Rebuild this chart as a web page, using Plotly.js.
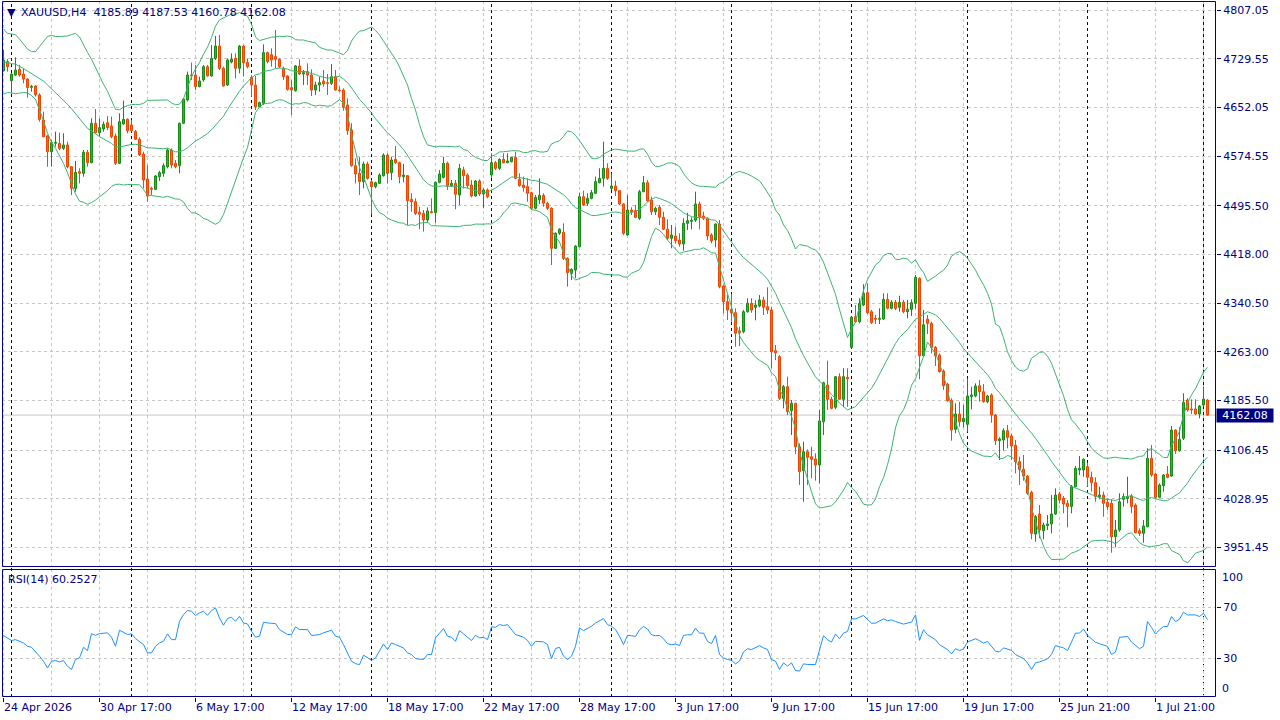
<!DOCTYPE html>
<html><head><meta charset="utf-8">
<script src="https://cdn.plot.ly/plotly-3.0.1.min.js"></script>
<style>html,body{margin:0;padding:0;background:#fff}#chart{width:1280px;height:720px}</style>
</head><body><div id="chart"></div>
<script>
// ---------------- DATA (XAUUSD H4) ----------------
const symbolTitle = "XAUUSD,H4";
const O = [
4710.6,4725.0,4694.7,4703.7,4712.8,4705.3,4697.4,4684.1,4686.2,4671.9,
4632.1,4606.6,4581.6,4594.9,4594.9,4586.9,4592.3,4557.7,4523.2,4549.8,
4547.1,4580.6,4564.1,4626.8,4611.9,4617.7,4627.8,4622.5,4606.6,4563.1,
4625.7,4633.1,4624.1,4614.0,4601.3,4577.9,4538.0,4523.2,4521.6,4541.8,
4547.1,4557.7,4584.3,4563.1,4559.3,4626.8,4663.9,4703.7,4703.7,4685.2,
4695.8,4717.0,4702.2,4730.3,4749.9,4714.4,4687.8,4724.5,4730.3,4714.4,
4749.9,4723.4,4700.0,4687.8,4653.3,4658.6,4739.3,4736.0,4733.0,4728.7,
4714.4,4702.2,4683.6,4678.8,4718.1,4705.3,4709.1,4703.7,4679.8,4687.8,
4694.2,4691.5,4690.5,4701.0,4679.8,4679.8,4656.0,4616.1,4559.3,4547.1,
4533.8,4562.0,4533.8,4525.9,4531.2,4543.4,4576.3,4548.2,4569.4,4564.1,
4541.8,4543.4,4505.7,4501.9,4485.0,4483.4,4472.8,4486.0,4484.4,4532.8,
4540.7,4563.1,4527.4,4531.2,4512.6,4552.4,4544.5,4528.5,4511.0,4534.9,
4514.2,4520.6,4544.5,4564.1,4555.1,4569.4,4564.1,4565.7,4572.6,4537.6,
4528.5,4525.9,4516.3,4491.4,4505.0,4512.0,4499.4,4491.4,4427.7,4451.6,
4453.2,4411.7,4387.9,4393.1,4430.3,4509.9,4499.4,4507.3,4515.3,4532.2,
4539.2,4555.1,4523.2,4526.9,4519.5,4498.3,4448.9,4488.7,4487.6,4475.5,
4517.9,4532.2,4504.6,4486.0,4493.0,4477.1,4458.0,4443.6,4447.3,4440.9,
4434.5,4467.5,4470.7,4472.5,4498.3,4479.2,4475.5,4448.9,4440.9,4466.4,
4367.7,4342.7,4330.5,4325.1,4296.0,4294.9,4326.7,4340.1,4333.7,4335.8,
4345.4,4334.7,4329.4,4264.6,4255.1,4188.8,4207.3,4169.1,4180.8,4111.7,
4073.5,4103.7,4095.8,4092.1,4082.6,4151.5,4210.0,4187.2,4174.5,4223.2,
4187.2,4222.2,4270.0,4318.8,4310.8,4337.4,4357.0,4326.7,4316.2,4314.6,
4315.1,4346.4,4332.1,4341.7,4333.7,4341.7,4326.7,4330.5,4340.1,4379.9,
4256.6,4315.0,4308.2,4270.0,4257.7,4232.3,4211.5,4185.0,4139.4,4163.8,
4151.5,4147.4,4191.4,4192.5,4208.9,4199.3,4183.4,4194.1,4162.2,4121.3,
4122.4,4137.2,4128.7,4114.0,4088.0,4075.7,4065.0,4039.1,3972.6,4004.5,
3977.9,3985.9,3988.6,4004.5,4036.4,4029.5,4021.5,4016.6,4048.0,4074.6,
4074.6,4079.8,4062.9,4054.4,4032.1,4034.8,4023.1,4021.5,3968.4,3979.0,
4027.9,4029.5,4033.2,4018.8,3977.9,3973.7,3984.3,4093.2,4068.2,4031.1,
4049.6,4068.2,4065.0,4138.3,4105.3,4125.1,4186.1,4171.8,4171.8,4163.8,
4178.1,4185.89];
const H = [
4743.6,4729.2,4706.4,4731.9,4719.7,4714.4,4698.4,4687.8,4687.8,4674.5,
4645.3,4608.2,4600.2,4613.5,4611.9,4610.8,4597.6,4558.8,4566.8,4555.1,
4584.3,4584.3,4634.7,4649.6,4634.7,4629.4,4638.4,4637.4,4610.8,4642.7,
4662.9,4634.7,4632.1,4616.1,4604.5,4581.6,4560.0,4525.9,4544.5,4551.0,
4563.1,4586.9,4586.9,4568.4,4628.0,4666.6,4709.1,4723.4,4719.7,4701.1,
4719.7,4719.7,4751.5,4765.9,4767.5,4717.0,4730.3,4738.3,4738.3,4751.5,
4751.5,4730.3,4703.7,4702.2,4661.3,4752.6,4740.9,4746.2,4775.4,4730.3,
4717.0,4703.7,4695.8,4719.7,4728.7,4711.7,4722.3,4712.8,4693.1,4701.0,
4711.7,4705.3,4721.3,4711.7,4685.2,4682.5,4666.6,4626.8,4571.0,4573.6,
4565.7,4565.7,4536.5,4533.8,4547.1,4579.0,4579.0,4573.6,4590.6,4565.7,
4562.0,4544.5,4515.3,4507.3,4494.0,4488.7,4493.0,4507.3,4533.8,4552.4,
4573.6,4565.7,4536.5,4536.5,4562.0,4557.7,4547.1,4536.5,4536.5,4537.6,
4523.2,4523.2,4579.0,4566.8,4571.0,4579.0,4579.0,4573.6,4581.6,4547.1,
4541.8,4539.2,4517.9,4512.6,4539.2,4515.3,4501.9,4493.0,4453.2,4459.6,
4467.5,4413.3,4395.8,4432.5,4516.3,4519.5,4515.3,4520.6,4541.8,4555.1,
4597.5,4563.1,4547.1,4535.4,4520.6,4499.4,4512.6,4493.0,4496.7,4520.6,
4542.9,4536.5,4509.9,4494.0,4496.7,4486.0,4473.9,4464.8,4462.1,4451.6,
4475.5,4484.4,4477.1,4517.9,4501.9,4486.0,4477.1,4451.6,4467.5,4472.8,
4369.3,4353.3,4354.9,4332.1,4302.9,4329.4,4348.1,4348.1,4345.0,4353.3,
4350.6,4365.6,4334.7,4273.7,4257.7,4210.0,4223.2,4186.1,4181.8,4117.1,
4119.7,4107.5,4111.7,4101.2,4170.2,4215.2,4248.7,4191.4,4224.3,4228.6,
4236.6,4236.6,4318.8,4337.4,4348.1,4370.4,4372.0,4329.4,4321.5,4332.1,
4356.0,4356.0,4345.4,4345.4,4352.2,4345.4,4345.4,4346.4,4385.2,4381.5,
4329.4,4321.5,4310.8,4272.1,4260.4,4235.0,4213.6,4188.8,4180.8,4183.4,
4178.1,4220.6,4207.3,4212.6,4217.9,4211.5,4194.1,4196.7,4163.8,4126.6,
4141.0,4146.3,4131.9,4122.4,4095.8,4098.5,4066.6,4041.6,4002.9,4018.8,
3990.6,4002.9,4034.8,4045.4,4040.1,4033.2,4026.8,4050.7,4080.9,4096.9,
4093.2,4086.2,4071.9,4062.9,4048.0,4040.1,4029.5,4027.9,3994.9,4037.5,
4037.5,4063.9,4036.4,4021.5,3981.7,3994.9,4109.1,4114.4,4070.3,4053.4,
4068.2,4080.9,4144.7,4139.4,4142.6,4196.7,4188.8,4187.2,4187.2,4178.1,
4207.3,4187.53];
const L = [
4709.1,4709.1,4674.5,4702.2,4701.1,4690.5,4667.6,4677.2,4669.2,4629.4,
4604.5,4557.7,4557.7,4589.6,4584.3,4584.3,4555.1,4512.6,4517.9,4531.2,
4541.8,4557.7,4563.1,4610.8,4605.5,4613.5,4616.1,4602.9,4560.4,4562.0,
4624.1,4610.8,4613.5,4600.2,4574.7,4523.2,4502.0,4512.6,4520.6,4535.0,
4541.8,4555.1,4555.1,4555.1,4547.1,4625.7,4661.3,4695.8,4679.9,4684.1,
4693.1,4701.1,4701.1,4727.6,4711.7,4685.2,4686.2,4722.3,4698.4,4706.4,
4701.1,4714.4,4669.2,4648.0,4652.2,4656.0,4722.3,4717.0,4714.4,4714.4,
4695.8,4678.8,4640.0,4677.2,4703.7,4687.8,4687.8,4670.3,4671.9,4677.2,
4685.2,4671.9,4687.8,4678.8,4677.2,4646.9,4608.2,4557.7,4531.2,4512.6,
4523.2,4537.0,4481.9,4523.2,4530.1,4541.8,4531.2,4536.5,4562.0,4531.2,
4532.8,4464.8,4486.0,4480.7,4458.0,4454.2,4468.5,4483.4,4468.5,4531.2,
4539.2,4520.6,4525.9,4489.8,4496.7,4523.2,4523.2,4508.9,4509.9,4511.0,
4491.4,4507.3,4540.0,4552.4,4552.4,4563.1,4563.1,4564.6,4537.6,4525.9,
4517.9,4501.9,4488.7,4489.8,4498.3,4494.0,4488.7,4401.1,4426.6,4448.9,
4409.1,4366.6,4377.2,4379.9,4429.3,4495.1,4495.1,4505.7,4514.2,4531.2,
4525.9,4536.5,4520.6,4511.0,4496.7,4448.9,4447.3,4480.7,4475.5,4472.8,
4516.9,4501.9,4480.7,4480.7,4464.8,4456.9,4440.9,4427.7,4435.7,4430.3,
4423.9,4456.9,4458.0,4469.6,4458.0,4472.8,4440.9,4435.7,4429.3,4364.0,
4324.1,4313.5,4310.8,4271.0,4272.1,4292.3,4325.1,4325.1,4313.0,4333.7,
4321.5,4323.1,4236.6,4249.8,4186.1,4172.8,4162.2,4130.3,4100.1,4050.7,
4024.1,4050.7,4061.4,4057.6,4053.4,4130.3,4170.2,4171.3,4171.3,4186.1,
4174.5,4175.4,4268.4,4309.2,4308.2,4335.8,4323.1,4307.1,4307.1,4307.1,
4313.5,4330.5,4330.5,4329.4,4326.7,4324.1,4316.2,4319.9,4332.1,4219.1,
4255.1,4291.2,4260.4,4240.2,4229.6,4202.0,4183.4,4121.3,4133.1,4143.6,
4142.6,4135.6,4171.3,4190.4,4183.4,4181.8,4180.8,4149.9,4114.4,4090.5,
4105.3,4109.1,4090.5,4069.3,4050.7,4057.6,4034.8,3964.2,3960.4,3965.8,
3964.2,3979.0,3973.7,4002.9,4021.5,4005.6,3983.3,4005.6,4047.0,4066.6,
4063.9,4048.0,4040.1,4024.1,4027.9,4000.2,4010.9,3942.9,3951.5,3976.3,
4016.2,4021.5,4005.6,3973.7,3969.5,3958.8,3983.3,4063.9,4029.5,4029.5,
4040.1,4061.4,4063.9,4100.1,4103.7,4122.4,4167.5,4163.8,4162.2,4156.9,
4175.4,4160.78];
const C = [
4727.6,4717.0,4705.3,4711.7,4703.7,4697.4,4683.6,4685.7,4672.4,4633.1,
4605.5,4581.6,4596.0,4596.5,4586.9,4592.3,4557.7,4523.2,4548.7,4547.1,
4580.6,4564.1,4626.8,4611.9,4619.9,4625.2,4619.9,4605.5,4563.1,4629.4,
4633.1,4615.1,4615.1,4601.3,4576.3,4536.5,4511.0,4521.6,4542.9,4548.2,
4559.3,4584.3,4560.4,4557.7,4626.8,4665.5,4703.7,4702.2,4685.2,4694.2,
4717.0,4702.2,4730.3,4749.9,4714.4,4686.2,4727.6,4728.7,4714.4,4749.9,
4723.4,4717.0,4687.8,4653.3,4659.7,4739.3,4725.0,4727.6,4728.7,4717.0,
4701.1,4680.9,4679.9,4718.1,4705.3,4707.5,4703.7,4679.8,4687.8,4691.5,
4689.4,4690.5,4701.0,4679.8,4678.8,4652.3,4615.0,4559.3,4546.1,4533.8,
4562.0,4539.2,4525.9,4532.2,4544.5,4576.3,4547.1,4568.4,4564.1,4541.8,
4544.5,4503.5,4501.9,4483.4,4482.0,4472.8,4487.1,4484.4,4532.8,4546.1,
4563.1,4527.4,4531.2,4513.7,4555.1,4543.4,4527.4,4511.0,4534.9,4514.2,
4520.6,4509.9,4564.1,4555.1,4569.4,4564.1,4566.8,4572.6,4539.2,4527.4,
4524.3,4515.3,4491.4,4508.9,4512.0,4499.4,4491.4,4427.7,4451.6,4458.0,
4411.7,4388.9,4394.2,4431.4,4509.9,4496.7,4507.3,4516.3,4533.8,4539.2,
4555.1,4539.2,4526.9,4519.5,4498.3,4451.6,4488.7,4486.0,4477.1,4517.9,
4532.2,4503.5,4486.0,4491.4,4477.1,4458.0,4443.6,4448.9,4439.8,4434.5,
4467.5,4471.7,4472.5,4498.3,4478.1,4475.5,4447.3,4439.8,4466.4,4366.6,
4342.7,4329.4,4325.1,4292.3,4293.3,4326.7,4340.1,4329.4,4337.4,4345.4,
4333.7,4329.4,4263.0,4261.4,4188.8,4207.3,4167.5,4180.8,4111.7,4071.9,
4103.7,4094.8,4091.6,4082.6,4152.6,4213.6,4187.2,4172.8,4223.2,4187.2,
4223.2,4220.0,4317.8,4310.8,4340.1,4356.0,4325.1,4309.2,4314.6,4316.2,
4346.4,4332.1,4341.7,4332.1,4341.7,4326.7,4330.5,4341.1,4381.5,4256.6,
4306.0,4308.2,4270.0,4256.6,4231.2,4208.9,4185.0,4138.3,4163.8,4151.5,
4156.9,4192.5,4194.1,4208.4,4199.3,4183.4,4192.5,4162.2,4121.3,4124.0,
4137.2,4126.6,4112.8,4087.8,4075.7,4065.0,4037.5,3973.7,4000.2,3979.0,
3987.0,3988.6,4004.5,4034.8,4026.8,4020.4,4016.6,4048.0,4077.3,4077.3,
4091.6,4062.9,4054.4,4032.1,4034.8,4021.5,4016.2,3968.4,3979.0,4024.1,
4032.1,4032.1,4016.6,3974.7,3973.7,3985.4,4093.2,4066.6,4031.1,4050.7,
4066.6,4062.9,4138.3,4105.3,4123.5,4182.4,4170.2,4170.2,4163.8,4176.5,
4187.7,4162.08];

// Bollinger Bands (20,2) values read for the first 19 bars (their window starts before the chart)
const bbUpperHead = [4777,4770,4769,4768,4761,4752,4745,4741,4741,4749,4757,4765,4767,4765,4765,4765,4766,4768,4770];
const bbMiddleHead = [4725,4723,4722,4721,4718,4714,4710,4706,4703,4699,4694,4688,4682,4676,4670,4664,4657,4650,4642];
const bbLowerHead = [4673,4676,4675,4674,4675,4676,4675,4671,4665,4649,4631,4611,4597,4587,4575,4563,4548,4532,4514];
const bbPeriod = 20, bbDev = 2;

// RSI(14): bar index -> value
const rsiBars = [0,2,3,5,6,7,9,10,11,12,13,14,15,16,17,18,19,20,21,22,23,24,26,27,28,29,31,32,33,35,36,37,38,39,40,41,42,43,44,45,46,47,48,49,50,51,52,53,54,55,56,57,58,59,60,61,62,63,64,65,66,68,69,71,72,73,74,76,77,79,80,82,83,84,85,86,87,88,89,90,91,92,93,94,95,96,97,98,100,101,102,103,105,106,107,108,110,111,112,113,114,115,116,117,118,119,120,121,122,123,124,125,126,128,130,131,132,133,135,136,137,138,139,140,141,142,143,144,145,147,148,150,151,152,153,154,155,156,
157,158,159,160,161,162,163,164,165,166,167,168,169,170,171,172,173,174,175,176,177,178,179,180,181,182,183,184,185,186,187,188,189,190,191,192,193,194,195,196,197,198,199,200,201,203,204,205,206,207,208,209,210,211,212,213,215,216,217,218,220,221,222,223,225,227,228,229,230,231,233,234,236,237,238,239,240,241,243,244,245,246,248,249,250,252,253,255,256,257,258,259,261,262,263,265,266,267,268,269,270,271,273,274,276,277,278,279,281,282,284,285,286,287,288,289,290,291,292,293,294,295,296,298,299,300,301];
const rsiValues = [47.8,43.9,44.6,42,39.4,38.6,31.6,27.6,22.4,27.6,28.2,27.1,28.2,23.7,21.1,29,30.3,38.6,36,49.3,48,49.3,49.9,46.5,39.4,52,48.6,49.1,45.4,40.7,34.2,34.2,39.4,42,43.3,49.1,44.6,44.6,59,64.2,67.4,66.9,63.5,65.6,66.9,63.7,67.4,69.5,61.6,55.9,61.1,62.2,59,62.9,57.7,56.9,51.2,46.5,47.3,58.2,57.7,57.2,52.5,48.6,48.6,54.6,52.5,52.5,47.8,48.6,49.9,52,47.3,46.5,40.7,34.2,27.6,25.8,25,32.4,30.3,28.4,30.3,35.5,41.2,36.8,42,40.7,38.1,34.2,32.9,29.7,29,32.9,32.9,46,53.3,47.3,46.5,43.3,51.7,49.1,46.5,43.9,48,46,46.5,44.6,54.6,54.3,56.4,55.6,56.4,48.6,46.5,43.9,39.4,43.3,42.8,40.7,29.7,37.6,38.6,31.6,29,31.6,39.4,53.8,51.7,55.1,57.7,61.1,56.4,55.1,52.5,47.3,40.7,48,
47.7,47.1,52.3,54.9,52.9,48.4,47.7,47.9,45.3,41.4,40.6,41.2,39.9,47.9,48.4,48.4,53.6,49.7,49.7,43.2,41.4,47.9,32.9,30.3,29,28.4,25.6,27.7,34.9,37.5,36.8,38.6,39.9,38.1,36.8,29,27.7,21.2,26.4,23.8,26.4,20.4,19.9,25.6,25.1,25.1,35.5,47.7,44.5,42.7,49,45.3,49.7,51,60.9,60.9,63.5,60.1,57.5,57.5,60.9,59.4,60.1,58.8,56.8,58.3,64,44,52.3,48.4,44.5,40.6,36.8,33.4,37.5,36,37.3,42.7,45.3,43.8,41.9,43.2,35.5,34.9,38.1,36.2,32.9,29.7,26.4,21.2,26.4,27.1,29.5,32.9,39.9,38.1,36,42.7,49.7,49.7,52.9,47.9,42.5,41.4,39.4,32.9,34.9,46.4,47.1,42.7,37.5,39.4,58.8,54.2,49,52.3,54.9,54.9,62.7,58.8,60.6,66.1,64,64,62.7,65.3,60.25];
const rsiLast = "60.2527";

// axis labels
const priceTicks = [4807.05,4729.55,4652.05,4574.55,4495.50,4418.00,4340.50,4263.00,4185.50,4106.45,4028.95,3951.45];
const dateTickBars = [0,24,48,72,96,120,144,168,192,216,240,264,288];
const dateTickLabels = ["24 Apr 2026","30 Apr 17:00","6 May 17:00","12 May 17:00","18 May 17:00","22 May 17:00","28 May 17:00","3 Jun 17:00","9 Jun 17:00","15 Jun 17:00","19 Jun 17:00","25 Jun 21:00","1 Jul 21:00"];
const weekStartBars = [2,32,62,92,122,152,182,212,241,271,300];

// ---------------- STYLE ----------------
const NAVY = '#000080', GRID = '#c6c6c6', FONT = 'DejaVu Sans';
const BULL_FILL = '#2fb52f', BULL_LINE = '#178c17';
const BEAR_FILL = '#ff6a0a', BEAR_LINE = '#f04400';
const BB_COLOR = '#3cb371', RSI_COLOR = '#1e90ff';

const n = C.length;
const bull = {x:[],b:[],h:[]}, bear = {x:[],b:[],h:[]};
const wBull = {x:[],y:[]}, wBear = {x:[],y:[]};
for (let i=0;i<n;i++){
  const up = C[i] >= O[i];
  const top = Math.max(O[i],C[i]), bot = Math.min(O[i],C[i]);
  const tgt = up?bull:bear, w = up?wBull:wBear;
  tgt.x.push(i); tgt.b.push(bot); tgt.h.push(Math.max(top-bot,0.8));
  w.x.push(i,i,null,i,i,null); w.y.push(H[i],top,null,bot,L[i],null);
}
// Bollinger bands from the closes (window complete from bar 19)
const bbU=[], bbM=[], bbL=[];
for (let i=0;i<n;i++){
  if (i < bbPeriod-1){ bbU.push(bbUpperHead[i]); bbM.push(bbMiddleHead[i]); bbL.push(bbLowerHead[i]); continue; }
  let s=0; for (let k=i-bbPeriod+1;k<=i;k++) s+=C[k];
  const m=s/bbPeriod; let v=0; for (let k=i-bbPeriod+1;k<=i;k++) v+=(C[k]-m)*(C[k]-m);
  const sd=Math.sqrt(v/bbPeriod);
  bbU.push(m+bbDev*sd); bbM.push(m); bbL.push(m-bbDev*sd);
}
const idx = [...Array(n).keys()];
const traces = [
  {type:'bar',x:bull.x,y:bull.h,base:bull.b,width:0.5,marker:{color:BULL_FILL,line:{color:BULL_LINE,width:1}},xaxis:'x',yaxis:'y',hoverinfo:'skip'},
  {type:'bar',x:bear.x,y:bear.h,base:bear.b,width:0.5,marker:{color:BEAR_FILL,line:{color:BEAR_LINE,width:1}},xaxis:'x',yaxis:'y',hoverinfo:'skip'},
  {type:'scatter',mode:'lines',x:wBull.x,y:wBull.y,line:{color:BULL_LINE,width:1},connectgaps:false,xaxis:'x',yaxis:'y',hoverinfo:'skip'},
  {type:'scatter',mode:'lines',x:wBear.x,y:wBear.y,line:{color:BEAR_LINE,width:1},connectgaps:false,xaxis:'x',yaxis:'y',hoverinfo:'skip'},
  {type:'scatter',mode:'lines',x:idx,y:bbU,line:{color:BB_COLOR,width:1},xaxis:'x',yaxis:'y',hoverinfo:'skip'},
  {type:'scatter',mode:'lines',x:idx,y:bbM,line:{color:BB_COLOR,width:1},xaxis:'x',yaxis:'y',hoverinfo:'skip'},
  {type:'scatter',mode:'lines',x:idx,y:bbL,line:{color:BB_COLOR,width:1},xaxis:'x',yaxis:'y',hoverinfo:'skip'},
  {type:'scatter',mode:'lines',x:rsiBars,y:rsiValues,line:{color:RSI_COLOR,width:1},xaxis:'x',yaxis:'y2',hoverinfo:'skip'}
];

const D_MAIN = [0.18678,1], D_RSI = [0,0.18391];
// pane frames placed on half pixels so the 1px navy borders stay crisp
const FR_L = 0.000412, FR_R = 0.999588;
const lastPrice = C[n-1];
const shapes = [
  {type:'line',xref:'paper',x0:0,x1:1,yref:'y',y0:lastPrice,y1:lastPrice,line:{color:'#c8c8c8',width:1},layer:'below'},
  {type:'rect',xref:'paper',yref:'paper',x0:FR_L,x1:FR_R,y0:0.18750,y1:0.99928,line:{color:NAVY,width:1}},
  {type:'rect',xref:'paper',yref:'paper',x0:FR_L,x1:FR_R,y0:0.000718,y1:0.18319,line:{color:NAVY,width:1}}
];
weekStartBars.forEach(b=>shapes.push({type:'line',xref:'x',x0:b,x1:b,yref:'paper',y0:0,y1:1,line:{color:NAVY,width:1,dash:'3px,3px'},layer:'below'}));

const tf = {family:FONT,size:11,color:NAVY};
const annotations = [
  {xref:'paper',yref:'paper',x:0,xshift:3,y:0.9835,xanchor:'left',yanchor:'middle',text:'▼',font:{family:FONT,size:11,color:NAVY},showarrow:false},
  {xref:'paper',yref:'paper',x:0,xshift:17,y:0.9832,xanchor:'left',yanchor:'middle',
   text:symbolTitle+'\u00a0\u00a0'+[O[n-1],H[n-1],L[n-1],C[n-1]].map(v=>v.toFixed(2)).join(' '),font:tf,showarrow:false},
  {xref:'paper',yref:'paper',x:0,xshift:4,y:0.1695,xanchor:'left',yanchor:'middle',text:'RSI(14) '+rsiLast,font:tf,showarrow:false},
  {xref:'paper',yref:'y2',x:1,xshift:4,y:93.7,xanchor:'left',yanchor:'middle',text:'100',font:tf,showarrow:false},
  {xref:'paper',yref:'y2',x:1,xshift:4,y:6.5,xanchor:'left',yanchor:'middle',text:'0',font:tf,showarrow:false},
  {xref:'paper',yref:'y',x:1,xshift:0,y:lastPrice,xanchor:'left',yanchor:'middle',text:lastPrice.toFixed(2),
   font:{family:FONT,size:11,color:'#ffffff'},bgcolor:NAVY,borderpad:0,width:56,height:13,align:'center',showarrow:false}
];
dateTickBars.forEach((b,k)=>annotations.push({xref:'x',yref:'paper',x:b,xshift:-2,y:-0.0144,xanchor:'left',yanchor:'middle',text:dateTickLabels[k],font:tf,showarrow:false}));

const layout = {
  width:1280,height:720,margin:{l:2,r:64,t:1,b:23,pad:0},
  paper_bgcolor:'#ffffff',plot_bgcolor:'#ffffff',showlegend:false,hovermode:false,barmode:'overlay',
  xaxis:{range:[-0.375,303.125],anchor:'y2',tickmode:'linear',tick0:0,dtick:24,ticks:'outside',ticklen:4,tickcolor:NAVY,
    showticklabels:false,showgrid:true,gridcolor:GRID,griddash:'3px,3px',gridwidth:1,zeroline:false,showline:false,fixedrange:true,
    minor:{tick0:0,dtick:12,showgrid:true,gridcolor:GRID,griddash:'3px,3px',gridwidth:1,ticks:''}},
  yaxis:{domain:D_MAIN,range:[3920.1,4821.6],side:'right',anchor:'x',tickmode:'array',tickvals:priceTicks,
    ticktext:priceTicks.map(v=>v.toFixed(2)),ticks:'outside',ticklen:4,tickcolor:NAVY,tickfont:tf,
    showgrid:true,gridcolor:GRID,griddash:'3px,3px',zeroline:false,showline:false,fixedrange:true},
  yaxis2:{domain:D_RSI,range:[-0.4,100],side:'right',anchor:'x',tickmode:'array',tickvals:[30,70],ticktext:['30','70'],
    ticks:'outside',ticklen:4,tickcolor:NAVY,tickfont:tf,showgrid:true,gridcolor:GRID,griddash:'3px,3px',zeroline:false,showline:false,fixedrange:true},
  shapes:shapes,annotations:annotations
};
Plotly.newPlot('chart',traces,layout,{staticPlot:true,displayModeBar:false});
</script></body></html>
